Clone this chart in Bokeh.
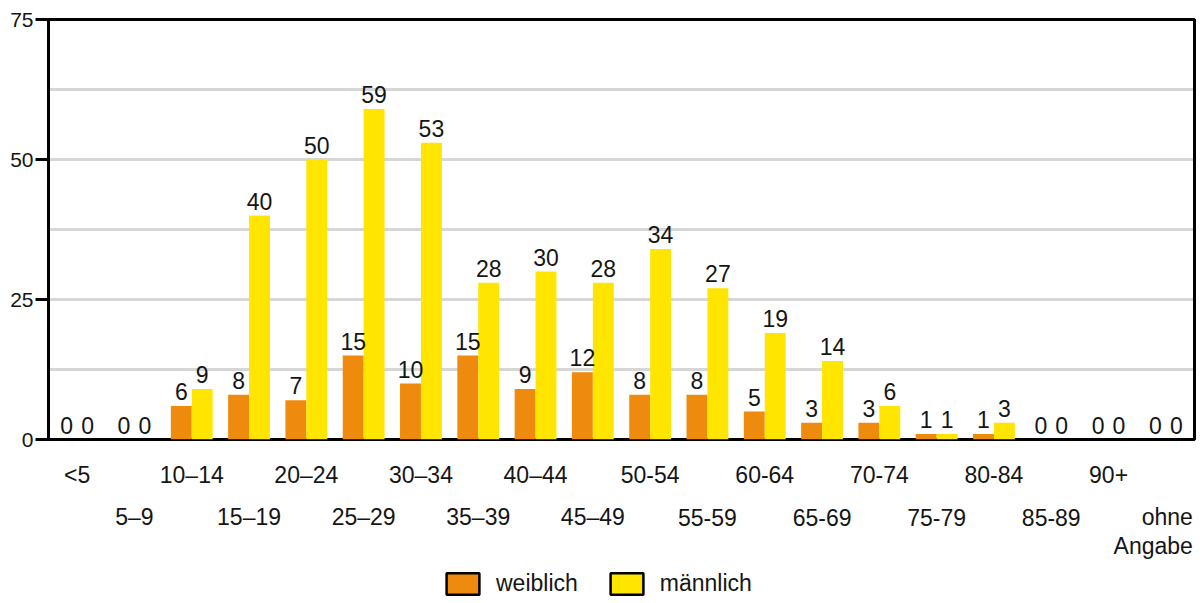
from bokeh.plotting import figure
from bokeh.layouts import column
from bokeh.models import (ColumnDataSource, Range1d, FixedTicker, LabelSet, Legend, LegendItem,
                          LinearAxis)
from bokeh.core.properties import value
from bokeh.embed import file_html
from bokeh.resources import INLINE

categories = ["<5", "5–9", "10–14", "15–19", "20–24", "25–29", "30–34", "35–39", "40–44", "45–49",
              "50-54", "55-59", "60-64", "65-69", "70-74", "75-79", "80-84", "85-89", "90+", "ohne Angabe"]
weiblich = [0, 0, 6, 8, 7, 15, 10, 15, 9, 12, 8, 8, 5, 3, 3, 1, 1, 0, 0, 0]
maennlich = [0, 0, 9, 40, 50, 59, 53, 28, 30, 28, 34, 27, 19, 14, 6, 1, 3, 0, 0, 0]
y_ticks = [0, 25, 50, 75]
grid_ticks = [12.5, 25, 37.5, 50, 62.5]

ORANGE = "#EE8A0E"
YELLOW = "#FFE500"
TXT = "#151515"
FONT = "Liberation Sans"
FS = "23px"

n = len(categories)
centers = [i + 0.5 for i in range(n)]
bw = 0.365
src = ColumnDataSource(dict(xw=[c - bw / 2 for c in centers], xm=[c + bw / 2 for c in centers],
                            w=weiblich, m=maennlich,
                            wl=[str(v) for v in weiblich], ml=[str(v) for v in maennlich]))

W = 1197
H1 = 452
p = figure(x_range=Range1d(0, n), y_range=Range1d(0, 75),
           width=W, height=H1, output_backend="svg", toolbar_location=None, sizing_mode="fixed",
           min_border_left=48, min_border_right=3, min_border_top=19, min_border_bottom=H1 - 439)

p.vbar(x="xw", top="w", width=bw, source=src, fill_color=ORANGE, line_color=None)
p.vbar(x="xm", top="m", width=bw, source=src, fill_color=YELLOW, line_color=None)

for xc, col, lab in (("xw", "w", "wl"), ("xm", "m", "ml")):
    p.add_layout(LabelSet(x=xc, y=col, text=lab, source=src,
                          text_align="center", text_baseline="alphabetic", y_offset=6,
                          text_font=value(FONT), text_font_size=FS, text_color=TXT))

# frame
p.outline_line_color = "black"
p.outline_line_width = 3
p.background_fill_color = "white"
p.border_fill_color = "white"

# grid
p.xgrid.grid_line_color = None
p.ygrid.ticker = FixedTicker(ticks=grid_ticks)
p.ygrid.grid_line_color = "#d6d6d6"
p.ygrid.grid_line_width = 3

# y axis
p.yaxis.ticker = FixedTicker(ticks=y_ticks)
p.yaxis.axis_line_color = "black"
p.yaxis.axis_line_width = 3
p.yaxis.major_tick_line_color = "black"
p.yaxis.major_tick_line_width = 3
p.yaxis.major_tick_out = 13
p.yaxis.major_tick_in = 0
p.yaxis.minor_tick_line_color = None
p.yaxis.major_label_standoff = 2
p.yaxis.major_label_text_font = FONT
p.yaxis.major_label_text_font_size = "21px"
p.yaxis.major_label_text_color = TXT
p.xaxis.visible = False

# right edge of the frame as a bare axis line
ra = LinearAxis(ticker=FixedTicker(ticks=[]), axis_line_color="black", axis_line_width=3,
                major_tick_line_color=None, minor_tick_line_color=None,
                major_label_text_font_size="0px", major_label_standoff=0)
p.add_layout(ra, "right")

# ---- category labels and legend strip below the plot (shares the x range) ----
H2 = 598 - H1
q = figure(x_range=p.x_range, y_range=Range1d(H2, 0), width=W, height=H2,
           output_backend="svg", toolbar_location=None, x_axis_type=None, y_axis_type=None,
           sizing_mode="fixed",
           min_border_left=48, min_border_right=3, min_border_top=0, min_border_bottom=0)
q.outline_line_color = None
q.xgrid.grid_line_color = None
q.ygrid.grid_line_color = None

row_y = [474 - H1, 516.5 - H1]     # baselines of first / second label row (px from strip top)
extra_line_y = 545 - H1            # baseline of second line of a wrapped label
even = [i for i in range(n) if i % 2 == 0]
odd = [i for i in range(n) if i % 2 == 1 and i != n - 1]
lab_src = ColumnDataSource(dict(
    x=[centers[i] for i in even] + [centers[i] for i in odd],
    y=[row_y[0]] * len(even) + [row_y[1]] * len(odd),
    t=[categories[i] for i in even] + [categories[i] for i in odd]))
q.text(x="x", y="y", text="t", source=lab_src, text_align="center", text_baseline="alphabetic",
       text_font=value(FONT), text_font_size=FS, text_color=TXT)

last_lines = categories[-1].split(" ")
last_src = ColumnDataSource(dict(x=[centers[-1]] * 2, y=[row_y[1], extra_line_y], t=last_lines))
q.text(x="x", y="y", text="t", source=last_src, text_align="right", text_baseline="alphabetic",
       x_offset=27, text_font=value(FONT), text_font_size=FS, text_color=TXT)

# legend swatches: hidden copies of the bars, drawn only as legend glyphs
dw = q.vbar(x="xw", top="w", width=bw, source=src, fill_color=ORANGE, line_color="black",
            line_width=2.5, visible=False)
dm = q.vbar(x="xm", top="m", width=bw, source=src, fill_color=YELLOW, line_color="black",
            line_width=2.5, visible=False)
leg = Legend(items=[LegendItem(label="weiblich", renderers=[dw]),
                    LegendItem(label="männlich", renderers=[dm])],
             orientation="horizontal", location=(394, 1), border_line_color=None,
             background_fill_alpha=0, glyph_width=41, glyph_height=27, label_height=27,
             label_text_font=FONT, label_text_font_size=FS, label_text_color=TXT,
             label_text_baseline="middle", inactive_fill_alpha=0,
             spacing=28, label_standoff=13, margin=0, padding=0)
q.add_layout(leg, "center")

layout = column(p, q, spacing=0, sizing_mode="fixed", width=W)
open("out.html", "w").write(file_html(layout, INLINE))
